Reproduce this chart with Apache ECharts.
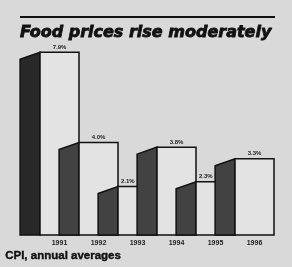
<!DOCTYPE html>
<html>
<head>
<meta charset="utf-8">
<script src="https://cdn.jsdelivr.net/npm/echarts@6/dist/echarts.min.js"></script>
<style>
  html, body { margin: 0; padding: 0; background: #d9d9d9; }
  #chart { width: 292px; height: 267px; }
</style>
</head>
<body>
<div id="chart"></div>
<script>
const years = ['1991', '1992', '1993', '1994', '1995', '1996']
const cpi = [7.9, 4.0, 2.1, 3.8, 2.3, 3.3]
const valueLabels = ['7.9%', '4.0%', '2.1%', '3.8%', '2.3%', '3.3%']

const chart = echarts.init(document.getElementById('chart'), null, { renderer: 'canvas' })

// 3D-ish bar: dark slanted side on the left, pale front face
const renderBar = (params, api) => {
  const i = params.dataIndex
  const val = api.value(1)
  const top = api.coord([i, val])
  const base = api.coord([i, 0])
  const bw = api.size([1, 0])[0]
  const left = top[0] - bw / 2
  const sideW = bw * 0.51
  const slant = 7

  // label sits over the part of the face not hidden by the next bar
  const next = cpi[i + 1]
  const lx = next !== undefined && next > val ? left + bw * 0.25 : top[0]

  return {
    type: 'group',
    children: [
      {
        type: 'polygon',
        shape: { points: [[left - sideW, top[1] + slant], [left, top[1]], [left, base[1]], [left - sideW, base[1]]] },
        style: { fill: i === 0 ? '#282828' : '#424242', stroke: '#111', lineWidth: 1.5 }
      },
      {
        type: 'rect',
        shape: { x: left, y: top[1], width: bw, height: base[1] - top[1] },
        style: { fill: '#e3e3e3', stroke: '#111', lineWidth: 1.5 }
      },
      {
        type: 'text',
        x: lx,
        y: top[1] - 5,
        style: {
          text: valueLabels[i],
          fill: '#222',
          font: 'bold 6px "Liberation Sans"',
          align: 'center',
          verticalAlign: 'middle'
        }
      }
    ]
  }
}

chart.setOption({
  backgroundColor: '#d9d9d9',
  animation: false,
  title: {
    text: 'Food prices rise moderately',
    left: 15,
    top: 20,
    textStyle: {
      fontFamily: 'DejaVu Sans',
      fontSize: 16,
      fontWeight: 'bold',
      fontStyle: 'italic',
      color: '#111',
      textBorderColor: '#111',
      textBorderWidth: 0.8
    }
  },
  grid: { left: 40, right: 18, top: 50, bottom: 32 },
  xAxis: {
    type: 'category',
    data: years,
    axisLine: { show: false },
    axisTick: { show: false },
    axisLabel: {
      margin: 5,
      fontSize: 7,
      fontWeight: 'bold',
      fontFamily: 'Liberation Sans',
      color: '#222'
    }
  },
  yAxis: {
    type: 'value',
    min: 0,
    max: 8,
    show: false,
    splitLine: { show: false }
  },
  series: [{
    type: 'custom',
    renderItem: renderBar,
    data: cpi.map((v, i) => [i, v])
  }],
  graphic: [
    {
      type: 'line',
      shape: { x1: 20, y1: 17, x2: 275, y2: 17 },
      style: { stroke: '#111', lineWidth: 2 }
    },
    {
      type: 'text',
      left: 5,
      top: 250,
      style: {
        text: 'CPI, annual averages',
        font: 'bold 11.5px "Liberation Sans"',
        fill: '#111',
        stroke: '#111',
        lineWidth: 0.4
      }
    }
  ]
})

window.addEventListener('resize', () => chart.resize())
</script>
</body>
</html>
